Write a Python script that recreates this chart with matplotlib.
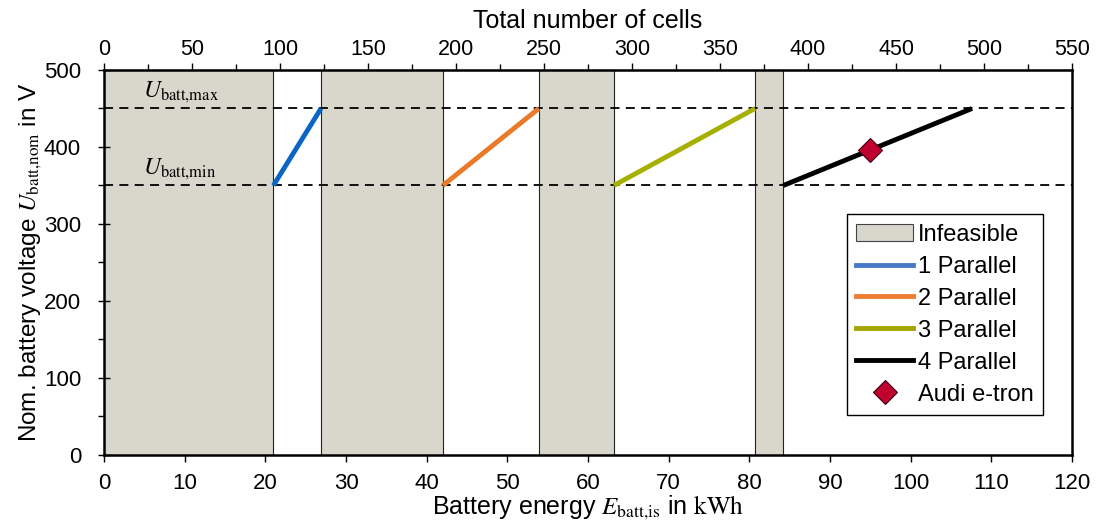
import matplotlib
matplotlib.use("Agg")
import matplotlib.pyplot as plt
from matplotlib.ticker import MultipleLocator
from matplotlib.patches import Patch
from matplotlib.lines import Line2D

plt.rcParams['font.family'] = ['Liberation Sans', 'DejaVu Sans']
plt.rcParams['mathtext.fontset'] = 'stix'

# data
u_min, u_max = 350, 450
infeasible = [(0, 21.0), (26.9, 42.0), (53.9, 63.2), (80.7, 84.2)]
series = ['1 Parallel', '2 Parallel', '3 Parallel', '4 Parallel']
e_start = [21.0, 42.0, 63.2, 84.2]
e_end = [26.9, 53.9, 80.7, 107.6]
colors = ['#0A66C2', '#E87A2A', '#A6B000', '#000000']
legend_colors = ['#4A78C8', '#ED7D31', '#A5A500', '#000000']
audi_e, audi_u = 95.0, 396
cells_max, e_max = 550, 120

fig = plt.figure(figsize=(10.97, 5.26), dpi=100)
ax = fig.add_axes([0.0948, 0.135, 0.8825, 0.732])

for a, b in infeasible:
    ax.axvspan(a, b, facecolor='#D9D7CC', edgecolor='#222222', lw=0.8, zorder=1)

ax.axhline(u_max, color='black', ls=(0, (5, 3.5)), lw=1.3, zorder=2)
ax.axhline(u_min, color='black', ls=(0, (5, 3.5)), lw=1.3, zorder=2)

for s, e, c in zip(e_start, e_end, colors):
    ax.plot([s, e], [u_min, u_max], color=c, lw=3.5, solid_capstyle='butt', zorder=3)

ax.plot(audi_e, audi_u, marker='D', ms=12, color='#C0002E', mec='#400010', mew=0.8, zorder=4)

ax.text(4.8, u_max + 5, r'$U_{\mathrm{batt{,}max}}$', fontsize=17, va='bottom')
ax.text(4.8, u_min + 5, r'$U_{\mathrm{batt{,}min}}$', fontsize=17, va='bottom')

ax.set_xlim(0, e_max)
ax.set_ylim(0, 500)
ax.xaxis.set_major_locator(MultipleLocator(10))
ax.yaxis.set_major_locator(MultipleLocator(100))
ax.yaxis.set_minor_locator(MultipleLocator(50))
ax.tick_params(axis='x', which='major', direction='out', length=5, width=1,
               labelsize=16, pad=8)
ax.tick_params(axis='y', which='major', direction='inout', length=9, width=1,
               labelsize=16, pad=12)
ax.tick_params(axis='y', which='minor', direction='out', length=4, width=1)
for sp in ax.spines.values():
    sp.set_linewidth(1.8)

ax.set_xlabel(r'Battery energy $E_{\mathrm{batt{,}is}}$ in $\mathrm{kWh}$', fontsize=18, labelpad=0)
ax.set_ylabel(r'Nom. battery voltage $U_{\mathrm{batt{,}nom}}$ in V', fontsize=17.5, labelpad=0)

top = ax.secondary_xaxis('top', functions=(lambda x: x * cells_max / e_max,
                                           lambda c: c * e_max / cells_max))
top.xaxis.set_major_locator(MultipleLocator(50))
top.xaxis.set_minor_locator(MultipleLocator(25))
top.tick_params(which='major', direction='out', length=5, width=1, labelsize=15.5, pad=2)
top.tick_params(which='minor', direction='out', length=4, width=1)
top.set_xlabel('Total number of cells', fontsize=18, labelpad=8)

handles = [Patch(facecolor='#D9D7CC', edgecolor='#444444', lw=0.8, label='Infeasible')]
for name, c in zip(series, legend_colors):
    handles.append(Line2D([], [], color=c, lw=3.5, label=name))
handles.append(Line2D([], [], ls='', marker='D', ms=12, color='#C0002E', mec='#400010',
                      mew=0.8, label='Audi e-tron'))
leg = ax.legend(handles=handles, loc='lower right', bbox_to_anchor=(0.97, 0.104),
                borderaxespad=0, fontsize=17, fancybox=False, framealpha=1,
                edgecolor='black', handlelength=2.4, handletextpad=0.2,
                labelspacing=0.42, borderpad=0.4)
leg.get_frame().set_linewidth(1.0)

fig.savefig('out.png', dpi=100)
